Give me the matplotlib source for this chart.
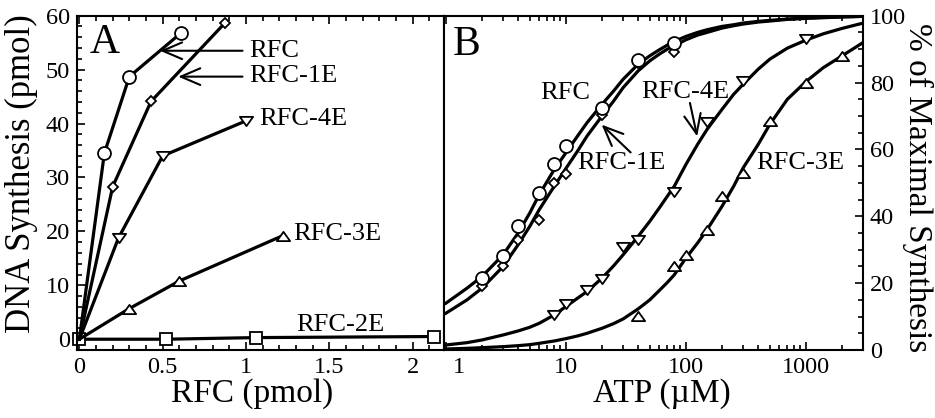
import numpy as np
import matplotlib
matplotlib.use('Agg')
import matplotlib.pyplot as plt
from matplotlib.path import Path
from matplotlib.ticker import MultipleLocator, LogLocator, NullFormatter
from matplotlib.transforms import ScaledTranslation

plt.rcParams['font.family'] = ['Liberation Serif', 'DejaVu Serif']

# ---- panel A: DNA synthesis vs RFC (pmol) ----
a_rfc_x = [0, 0.15, 0.30, 0.61]
a_rfc_y = [0, 34.5, 48.7, 56.8]
a_1e_x = [0, 0.20, 0.43, 0.875]
a_1e_y = [0, 28.3, 44.1, 58.7]
a_4e_x = [0, 0.235, 0.50, 1.0]
a_4e_y = [0, 18.8, 34.0, 40.5]
a_3e_x = [0, 0.295, 0.60, 1.22]
a_3e_y = [0, 5.6, 10.8, 19.2]
a_2e_x = [0, 0.52, 1.06, 2.13]
a_2e_y = [0, 0, 0.3, 0.5]

# ---- panel B: % maximal synthesis vs ATP (uM), measured points ----
b_rfc_x = [2, 3, 4, 6, 8, 10, 20, 40, 80]
b_rfc_y = [21.5, 28, 37, 47, 55.7, 61, 72.4, 86.8, 91.8]
b_1e_x = [2, 3, 4, 6, 8, 10, 20, 40, 80]
b_1e_y = [19, 25, 33, 39, 50, 52.5, 70.4, 85.8, 89]
b_4e_x = [8, 10, 15, 20, 30, 40, 80, 150, 300, 1000]
b_4e_y = [10.5, 13.8, 18, 21.2, 30.7, 33, 47.3, 68.3, 80.5, 93]
b_3e_x = [40, 80, 100, 150, 200, 300, 500, 1000, 2000]
b_3e_y = [10.3, 25, 28.5, 36, 46, 53, 68.6, 80, 87.8]

# fitted curves
curve_x = [1, 1.5, 2, 3, 4, 5, 6, 8, 10, 12.5, 15, 20, 25, 30, 40, 50, 60, 70,
           80, 100, 125, 150, 200, 250, 300, 400, 500, 700, 1000, 1400, 2000, 3000]
curve_rfc = [14, 18.5, 22, 28.5, 35, 41, 46.5, 54, 59, 64, 68, 73.5, 77.5, 81,
             85.5, 88, 89.8, 91.2, 92.3, 93.8, 95, 95.8, 96.8, 97.3, 97.8, 98.3,
             98.6, 99, 99.3, 99.5, 99.7, 99.8]
curve_1e = [11, 15, 18.5, 25, 31.5, 37, 42, 49, 54.3, 59.5, 64, 70, 74.5, 78.5,
            83.5, 86.5, 88.5, 90, 91, 92.8, 94.2, 95, 96.3, 97, 97.5, 98.1, 98.4,
            98.9, 99.2, 99.4, 99.6, 99.8]
curve_4e = [1.5, 2.2, 3, 4.5, 5.7, 6.8, 8, 10.5, 13, 15.5, 17.5, 21.5, 25.2,
            28.5, 34, 38.5, 42.5, 46, 49, 55.5, 61.5, 66, 72, 76.5, 79.5, 84, 87,
            90.3, 92.7, 94.6, 96.2, 97.8]
curve_3e = [0.3, 0.5, 0.7, 1.0, 1.3, 1.6, 2.0, 2.7, 3.4, 4.2, 5, 6.5, 7.9, 9.3,
            12.3, 15, 17.8, 20.2, 22.5, 27.5, 32, 36, 43, 49, 54.5, 61.5, 67.5,
            75, 80.3, 84.5, 88, 92]

codes = [Path.MOVETO, Path.LINETO, Path.LINETO, Path.CLOSEPOLY]
tri_up = Path([(-1, -0.7), (1, -0.7), (0, 0.7), (-1, -0.7)], codes)
tri_dn = Path([(-1, 0.7), (1, 0.7), (0, -0.7), (-1, 0.7)], codes)

fig = plt.figure(figsize=(9.35, 4.18), dpi=100)
axA = fig.add_axes([76.7/935, 1-350/418, (444.3-76.7)/935, (350-15.7)/418])
axB = fig.add_axes([444.3/935, 1-350/418, (862.7-444.3)/935, (350-15.7)/418])

lw = 2.3
mk = dict(color='black', mfc='white', mec='black', mew=1.3, clip_on=False)
axA.plot(a_2e_x, a_2e_y, marker='s', ms=8.5, lw=lw, **mk)
axA.plot(a_3e_x, a_3e_y, marker=tri_up, ms=9.5, lw=lw, markevery=[1, 2, 3], **mk)
axA.plot(a_4e_x, a_4e_y, marker=tri_dn, ms=9.5, lw=lw, markevery=[1, 2, 3], **mk)
axA.plot(a_1e_x, a_1e_y, marker='D', ms=5.2, lw=lw, markevery=[1, 2, 3], **mk)
axA.plot(a_rfc_x, a_rfc_y, marker='o', ms=9.3, lw=lw, markevery=[1, 2, 3], **mk)

axA.set_xlim(-0.016, 2.19)
axA.set_ylim(-2, 60)
axA.xaxis.set_minor_locator(MultipleLocator(0.1))
axA.yaxis.set_minor_locator(MultipleLocator(2))
axA.set_xticks([0, 0.5, 1, 1.5, 2], labels=['0', '0.5', '1', '1.5', '2'])
axA.set_yticks([0, 10, 20, 30, 40, 50, 60])
axA.tick_params(which='both', direction='in', top=True, right=False, width=1.2,
                labelsize=17.5)
axA.tick_params(which='major', length=6, pad=5)
axA.tick_params(which='minor', length=3.5)

fs = 19
axA.text(1.017, 53.5, 'RFC', fontsize=fs, va='center', ha='left')
axA.text(1.017, 48.9, 'RFC-1E', fontsize=fs, va='center', ha='left')
axA.text(1.079, 40.9, 'RFC-4E', fontsize=fs, va='center', ha='left')
axA.text(1.283, 19.6, 'RFC-3E', fontsize=fs, va='center', ha='left')
axA.text(1.303, 2.6, 'RFC-2E', fontsize=fs, va='center', ha='left')
arr = dict(arrowstyle='->,head_length=1.4,head_width=0.6', mutation_scale=10,
           lw=1.5, color='black', shrinkA=0, shrinkB=0)
axA.annotate('', xy=(0.484, 53.5), xytext=(0.979, 53.5), arrowprops=arr)
axA.annotate('', xy=(0.593, 48.7), xytext=(0.979, 48.7), arrowprops=arr)
axA.text(0.034, 0.919, 'A', transform=axA.transAxes, fontsize=30,
         va='center', ha='left')

# ---- panel B ----
axB.set_xscale('log')
for cy in (curve_rfc, curve_1e, curve_4e, curve_3e):
    axB.plot(curve_x, cy, color='black', lw=lw)
pk = dict(ls='none', mfc='white', mec='black', mew=1.3)
axB.plot(b_1e_x, b_1e_y, marker='D', ms=5.2, **pk)
axB.plot(b_rfc_x, b_rfc_y, marker='o', ms=9.3, **pk)
axB.plot(b_4e_x, b_4e_y, marker=tri_dn, ms=9.5, **pk)
axB.plot(b_3e_x, b_3e_y, marker=tri_up, ms=9.5, **pk)

axB.set_xlim(0.97, 2970)
axB.set_ylim(0, 100)
axB.set_xticks([1, 10, 100, 1000], labels=['1', '10', '100', '1000'])
axB.xaxis.set_minor_locator(LogLocator(base=10, subs=np.arange(2, 10)))
axB.xaxis.set_minor_formatter(NullFormatter())
axB.yaxis.tick_right()
axB.set_yticks([0, 20, 40, 60, 80, 100])
axB.yaxis.set_minor_locator(MultipleLocator(5))
axB.tick_params(which='both', direction='in', top=True, left=False, right=True,
                width=1.2, labelsize=17.5)
axB.tick_params(which='major', length=6, pad=5)
axB.tick_params(which='minor', length=3.5)
# the "1" label sits a bit to the right of the panel edge
lab1 = axB.get_xticklabels()[0]
lab1.set_transform(lab1.get_transform() + ScaledTranslation(0.13, 0, fig.dpi_scale_trans))

axB.text(6.15, 76.9, 'RFC', fontsize=fs, va='center', ha='left')
axB.text(12.4, 55.8, 'RFC-1E', fontsize=fs, va='center', ha='left')
axB.text(42.8, 77.1, 'RFC-4E', fontsize=fs, va='center', ha='left')
axB.text(388, 55.9, 'RFC-3E', fontsize=fs, va='center', ha='left')
axB.annotate('', xy=(19.85, 67.4), xytext=(34.6, 59.1), arrowprops=arr)
axB.annotate('', xy=(124, 63.9), xytext=(108, 73.9), arrowprops=arr)
axB.text(0.021, 0.912, 'B', transform=axB.transAxes, fontsize=30,
         va='center', ha='left')

for ax in (axA, axB):
    for s in ax.spines.values():
        s.set_linewidth(1.5)

fig.text(21.7/935, 1-174/418, 'DNA Synthesis (pmol)', rotation=90,
         ha='center', va='center', fontsize=25)
fig.text(251.7/935, 1-394/418, 'RFC (pmol)', ha='center', va='center', fontsize=24)
fig.text(661.7/935, 1-394/418, 'ATP (\u00b5M)', ha='center', va='center', fontsize=24)
fig.text(918/935, 1-188/418, '% of Maximal Synthesis', rotation=270,
         ha='center', va='center', fontsize=24)

fig.savefig('out.png', dpi=100)
